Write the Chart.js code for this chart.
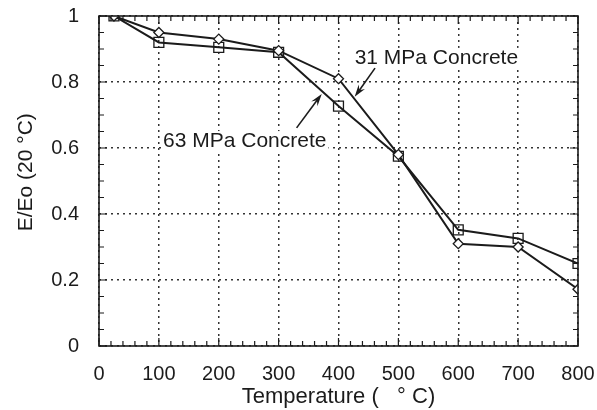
<!DOCTYPE html>
<html>
<head>
<meta charset="utf-8">
<script src="https://cdn.jsdelivr.net/npm/chart.js@4/dist/chart.umd.min.js"></script>
<style>
  html, body { margin: 0; padding: 0; background: #fff; }
  canvas { display: block; }
</style>
</head>
<body>
<canvas id="grafica" width="597" height="410"></canvas>
<script>
'use strict'

//datos
const temperaturas = [ 25, 100, 200, 300, 400, 500, 600, 700, 800 ];
const concreto31 = [ 1.0, 0.95, 0.93, 0.895, 0.81, 0.58, 0.31, 0.30, 0.172 ];
const concreto63 = [ 1.0, 0.92, 0.905, 0.89, 0.727, 0.575, 0.352, 0.326, 0.25 ];

//ejes
const xMin = 0, xMax = 800, xPaso = 100, xMenor = 20;
const yMin = 0, yMax = 1, yPaso = 0.2, yMenor = 0.05;

const negro = '#1b1b1b';
const fuente = 'Liberation Sans, Arial, Helvetica, sans-serif';

function puntos( valores )
{
  return temperaturas.map( ( t, i ) => ( { x: t, y: valores[ i ] } ) );
}

//marco y marcas hacia adentro
const marcoPlugin =
{
  id: 'marco',
  afterDatasetsDraw( chart )
  {
    const { ctx, chartArea: a, scales: { x, y } } = chart;
    ctx.save();
    ctx.strokeStyle = negro;
    ctx.lineWidth = 1.6;
    ctx.strokeRect( a.left, a.top, a.right - a.left, a.bottom - a.top );

    ctx.lineWidth = 1.2;
    ctx.beginPath();
    for ( let v = xMin; v <= xMax + 0.001; v += xMenor )
    {
      const px = x.getPixelForValue( v );
      const largo = ( Math.round( v ) % xPaso === 0 ) ? 8 : 5;
      ctx.moveTo( px, a.bottom ); ctx.lineTo( px, a.bottom - largo );
      ctx.moveTo( px, a.top ); ctx.lineTo( px, a.top + largo );
    }
    for ( let k = 0; k <= Math.round( ( yMax - yMin ) / yMenor ); k++ )
    {
      const v = yMin + k * yMenor;
      const py = y.getPixelForValue( v );
      const largo = ( k % 4 === 0 ) ? 8 : 5;
      ctx.moveTo( a.left, py ); ctx.lineTo( a.left + largo, py );
      ctx.moveTo( a.right, py ); ctx.lineTo( a.right - largo, py );
    }
    ctx.stroke();
    ctx.restore();
  }
};

//etiquetas con flecha
const notas =
[
  { texto: '31 MPa Concrete', tx: 427, ty: 0.873, desde: [ 461, 0.842 ], hasta: [ 427, 0.755 ] },
  { texto: '63 MPa Concrete', tx: 107, ty: 0.621, desde: [ 330, 0.661 ], hasta: [ 372, 0.764 ] },
];

const notasPlugin =
{
  id: 'notas',
  afterDatasetsDraw( chart )
  {
    const { ctx, scales: { x, y } } = chart;
    ctx.save();
    ctx.font = '21px ' + fuente;
    ctx.textBaseline = 'middle';
    ctx.textAlign = 'left';
    notas.forEach( n =>
    {
      const px = x.getPixelForValue( n.tx );
      const py = y.getPixelForValue( n.ty );
      const w = ctx.measureText( n.texto ).width;
      ctx.fillStyle = '#fff';
      ctx.fillRect( px - 2, py - 10, w + 4, 20 );
      ctx.fillStyle = negro;
      ctx.fillText( n.texto, px, py );

      //flecha
      const x1 = x.getPixelForValue( n.desde[ 0 ] ), y1 = y.getPixelForValue( n.desde[ 1 ] );
      const x2 = x.getPixelForValue( n.hasta[ 0 ] ), y2 = y.getPixelForValue( n.hasta[ 1 ] );
      const ang = Math.atan2( y2 - y1, x2 - x1 );
      ctx.strokeStyle = negro;
      ctx.lineWidth = 1.6;
      ctx.beginPath();
      ctx.moveTo( x1, y1 );
      ctx.lineTo( x2 - 6 * Math.cos( ang ), y2 - 6 * Math.sin( ang ) );
      ctx.stroke();
      ctx.beginPath();
      ctx.moveTo( x2, y2 );
      ctx.lineTo( x2 - 13 * Math.cos( ang - 0.3 ), y2 - 13 * Math.sin( ang - 0.3 ) );
      ctx.lineTo( x2 - 8 * Math.cos( ang ), y2 - 8 * Math.sin( ang ) );
      ctx.lineTo( x2 - 13 * Math.cos( ang + 0.3 ), y2 - 13 * Math.sin( ang + 0.3 ) );
      ctx.closePath();
      ctx.fillStyle = negro;
      ctx.fill();
    });
    ctx.restore();
  }
};

const grid =
{
  color: '#333',
  lineWidth: 1.5,
  drawTicks: false,
};

//etiquetas sin ceros de sobra: 1, 0.8, ..., 0
const etiquetaY = v => String( Math.round( v * 10 ) / 10 );

new Chart( document.getElementById( 'grafica' ),
{
  type: 'line',
  data:
  {
    datasets:
    [
      {
        label: '31 MPa Concrete',
        data: puntos( concreto31 ),
        borderColor: negro,
        borderWidth: 2,
        pointStyle: 'rectRot',
        pointRadius: 5,
        pointBorderWidth: 1.3,
        pointBackgroundColor: '#fff',
        pointBorderColor: negro,
        tension: 0,
      },
      {
        label: '63 MPa Concrete',
        data: puntos( concreto63 ),
        borderColor: negro,
        borderWidth: 2,
        pointStyle: 'rect',
        pointRadius: 7,
        pointBorderWidth: 1.3,
        pointBackgroundColor: 'rgba(255,255,255,0)',
        pointBorderColor: negro,
        tension: 0,
      }
    ]
  },
  options:
  {
    responsive: false,
    animation: false,
    layout: { padding: { top: 16, right: 19, bottom: 0, left: 0 } },
    plugins: { legend: { display: false }, tooltip: { enabled: false } },
    scales:
    {
      x:
      {
        type: 'linear',
        min: xMin,
        max: xMax,
        afterFit: s => { s.height = 64; s.paddingLeft = 0; s.paddingRight = 0; },
        ticks: { stepSize: xPaso, padding: 16, color: negro, font: { size: 20, family: fuente } },
        grid: grid,
        border: { display: false, dash: [ 2, 4 ] },
        title: { display: true, text: 'Temperature (   ° C)', color: negro, padding: { top: 2, bottom: 0 }, font: { size: 22, family: fuente } },
      },
      y:
      {
        min: yMin,
        max: yMax,
        afterFit: s => { s.width = 99; s.paddingTop = 0; s.paddingBottom = 0; },
        ticks: { stepSize: yPaso, padding: 20, color: negro, font: { size: 20, family: fuente }, callback: etiquetaY },
        grid: grid,
        border: { display: false, dash: [ 2, 4 ] },
        title: { display: true, text: '   E/Eo (20 °C)', color: negro, padding: { top: 14, bottom: 0 }, font: { size: 21, family: fuente } },
      }
    }
  },
  plugins: [ marcoPlugin, notasPlugin ]
});
</script>
</body>
</html>
